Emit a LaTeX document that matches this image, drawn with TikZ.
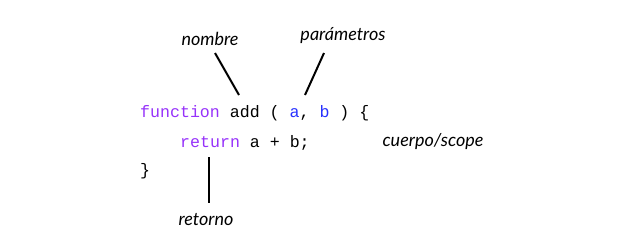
\documentclass[tikz,border=0pt]{standalone}
\usepackage{fontspec}
\setmainfont{Lato}
\newfontfamily\codefont{Liberation Mono}
\newfontfamily\handfont{Lato Italic}
\definecolor{kwpurple}{RGB}{150,50,250}
\definecolor{argblue}{RGB}{40,50,255}
\begin{document}
\begin{tikzpicture}[x=1pt,y=-1pt,
  codeline/.style={anchor=base west,inner sep=0pt,font=\codefont\fontsize{16.6}{18}\selectfont},
  note/.style={anchor=base,inner sep=0pt,font=\handfont\fontsize{18}{20}\selectfont},
  pointer/.style={line width=2pt,black}]
  \useasboundingbox (0,0) rectangle (620,250);
  % source code
  \node[codeline] (l1) at (140,117) {\textcolor{kwpurple}{function} add ( \textcolor{argblue}{a}, \textcolor{argblue}{b} ) \{};
  \node[codeline] (l2) at (180,147) {\textcolor{kwpurple}{return} a + b;};
  \node[codeline] (l3) at (140,175) {\}};
  % annotations
  \node[note] (nombre) at (210,45) {nombre};
  \node[note] (params) at (343,40) {parámetros};
  \node[note] (cuerpo) at (433,146) {cuerpo/scope};
  \node[note] (retorno) at (206,225) {retorno};
  % pointer lines
  \coordinate (nombreA) at (215,53);
  \coordinate (nombreB) at (239,95);
  \coordinate (paramsA) at (324,53);
  \coordinate (paramsB) at (305,95);
  \coordinate (retA) at (209,157);
  \coordinate (retB) at (209,203);
  \draw[pointer] (nombreA) -- (nombreB);
  \draw[pointer] (paramsA) -- (paramsB);
  \draw[pointer] (retA) -- (retB);
\end{tikzpicture}
\end{document}
